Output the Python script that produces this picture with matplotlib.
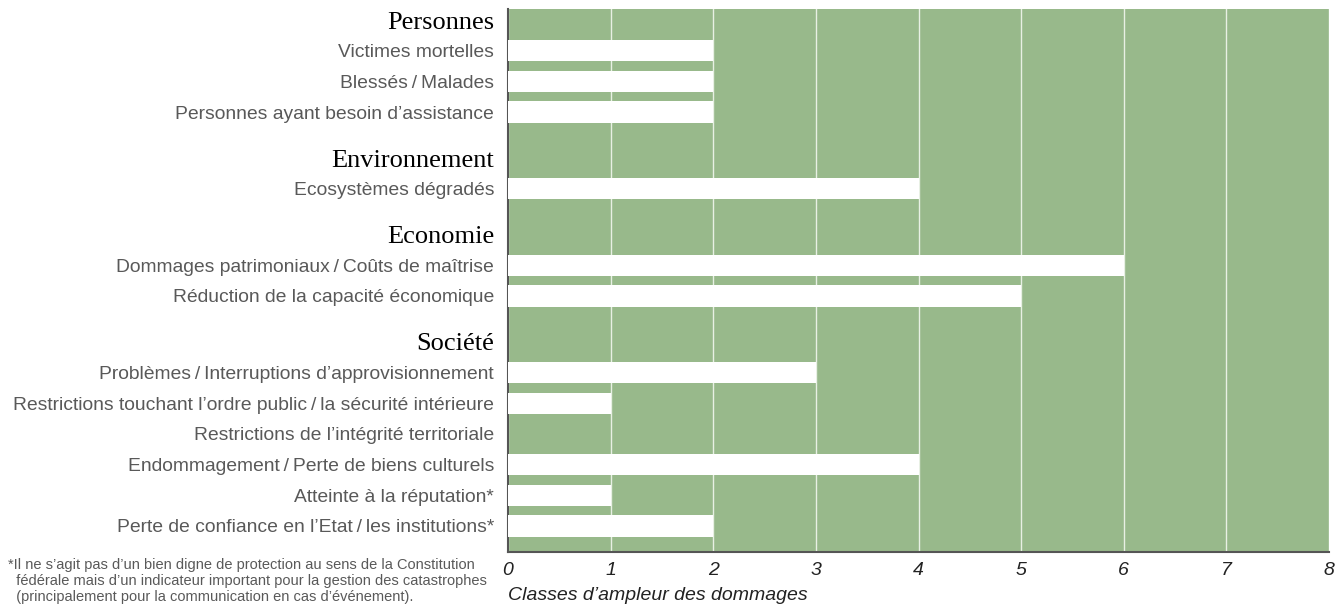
import matplotlib
matplotlib.use("Agg")
import matplotlib.pyplot as plt

plt.rcParams['font.family'] = ['Liberation Sans', 'DejaVu Sans']

# data
groups = ["Personnes", "Environnement", "Economie", "Société"]
items = [
    ["Victimes mortelles",
     "Blessés\u2009/\u2009Malades",
     "Personnes ayant besoin d’assistance"],
    ["Ecosystèmes dégradés"],
    ["Dommages patrimoniaux\u2009/\u2009Coûts de maîtrise",
     "Réduction de la capacité économique"],
    ["Problèmes\u2009/\u2009Interruptions d’approvisionnement",
     "Restrictions touchant l’ordre public\u2009/\u2009la sécurité intérieure",
     "Restrictions de l’intégrité territoriale",
     "Endommagement\u2009/\u2009Perte de biens culturels",
     "Atteinte à la réputation*",
     "Perte de confiance en l’Etat\u2009/\u2009les institutions*"],
]
values = [
    [2, 2, 2],
    [4],
    [6, 5],
    [3, 1, 0, 4, 1, 2],
]
x_ticks = [0, 1, 2, 3, 4, 5, 6, 7, 8]
x_label = "Classes d’ampleur des dommages"
footnote = ("*Il ne s’agit pas d’un bien digne de protection au sens de la Constitution\n"
            "  fédérale mais d’un indicateur important pour la gestion des catastrophes\n"
            "  (principalement pour la communication en cas d’événement).")

GREEN = "#98b98b"
LABEL_GRAY = "#595959"

# row layout
header_pos = []
item_pos = []
item_vals = []
item_labels = []
cursor = 0.0
for i, g in enumerate(groups):
    if i > 0:
        cursor += 0.5
    header_pos.append(cursor)
    cursor += 1
    for lab, v in zip(items[i], values[i]):
        item_pos.append(cursor)
        item_vals.append(v)
        item_labels.append(lab)
        cursor += 1

fig = plt.figure(figsize=(13.41, 6.10), dpi=100)
ax = fig.add_axes([508 / 1341, 1 - 552 / 610, (1329 - 508) / 1341, (552 - 9) / 610])
ax.set_facecolor(GREEN)

ax.barh(item_pos, item_vals, height=0.7, color="white", edgecolor="none", zorder=3)

ax.set_xlim(0, 8)
ax.set_ylim(cursor - 1 + 0.85, -0.36)
ax.set_xticks(x_ticks)
ax.set_xticklabels([str(t) for t in x_ticks], fontsize=14, fontstyle="italic", color="#222222")
ax.tick_params(axis="x", length=0, pad=7)
ax.grid(axis="x", color="#e8f0e4", linewidth=1.0, zorder=1)
ax.grid(axis="y", visible=False)

# y labels: headers and items
ticks = header_pos + item_pos
labels = groups + item_labels
ax.set_yticks(ticks)
ax.set_yticklabels(labels)
ax.tick_params(axis="y", length=0, pad=10)
for t in ax.get_yticklabels():
    if t.get_text() in groups:
        t.set_fontfamily(['Liberation Serif', 'DejaVu Serif'])
        t.set_fontsize(19)
        t.set_color("black")
    else:
        t.set_fontsize(13.9)
        t.set_color(LABEL_GRAY)

for side in ["top", "right"]:
    ax.spines[side].set_visible(False)
ax.spines["left"].set_color("#555555")
ax.spines["left"].set_linewidth(1.5)
ax.spines["bottom"].set_color("#555555")
ax.spines["bottom"].set_linewidth(1.5)

fig.text(508 / 1341, 1 - 596 / 610, x_label, fontsize=14, fontstyle="italic",
         color="#222222", ha="left", va="center")
fig.text(8 / 1341, 1 - 581 / 610, footnote, fontsize=10.5, color=LABEL_GRAY,
         ha="left", va="center", linespacing=1.2)

fig.savefig("out.png", dpi=100, facecolor="white")
